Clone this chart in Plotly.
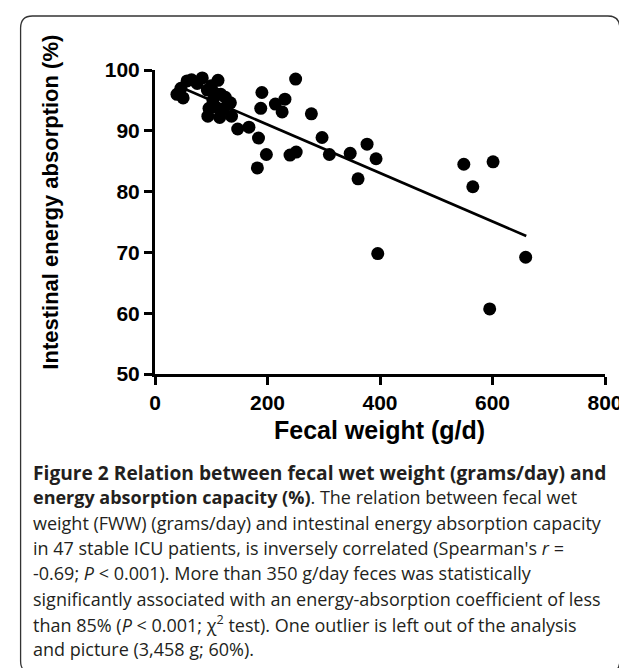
import plotly.graph_objects as go

# Data
fecal_weight = [39, 50, 46, 57, 65, 75, 84, 93, 100, 112, 106, 117, 103, 125,
                96, 94, 108, 115, 122, 134, 136, 147, 167, 184, 182, 190, 188,
                198, 214, 226, 231, 240, 251, 250, 278, 297, 310, 347, 361, 377,
                393, 396, 549, 565, 601, 595, 659]
energy_abs = [96.0, 95.4, 97.0, 98.2, 98.4, 97.8, 98.7, 96.7, 97.4, 98.3, 96.2,
              96.0, 95.0, 95.5, 93.7, 92.4, 93.9, 92.2, 93.6, 94.6, 92.4, 90.3,
              90.6, 88.8, 83.9, 96.3, 93.7, 86.1, 94.4, 93.1, 95.2, 86.0, 86.5,
              98.5, 92.8, 88.9, 86.1, 86.3, 82.1, 87.8, 85.4, 69.8, 84.5, 80.8,
              84.9, 60.7, 69.2]
fit_x = [45, 660]
fit_y = [97.2, 72.7]

x_ticks = [0, 200, 400, 600, 800]
y_ticks = [50, 60, 70, 80, 90, 100]

caption_lines = [
    "<b>Figure 2 Relation between fecal wet weight (grams/day) and</b>",
    "<b>energy absorption capacity (%)</b>. The relation between fecal wet",
    "weight (FWW) (grams/day) and intestinal energy absorption capacity",
    "in 47 stable ICU patients, is inversely correlated (Spearman's <i>r</i> =",
    "-0.69; <i>P</i> &lt; 0.001). More than 350 g/day feces was statistically",
    "significantly associated with an energy-absorption coefficient of less",
    "than 85% (<i>P</i> &lt; 0.001; χ<sup>2</sup> test). One outlier is left out of the analysis",
    "and picture (3,458 g; 60%).",
]
caption_sizes = [19.2, 18, 18, 18, 18, 18, 18, 18]

W, H = 627, 668
L, R, T, B = 147, 604, 62, 366  # plot area in pixels


def px(x):
    return (x - L) / (R - L)


def py(y):
    return (B - y) / (B - T)


fig = go.Figure()
fig.add_trace(go.Scatter(x=fit_x, y=fit_y, mode="lines",
                         line=dict(color="black", width=2.6), hoverinfo="skip"))
fig.add_trace(go.Scatter(x=fecal_weight, y=energy_abs, mode="markers",
                         marker=dict(color="black", size=13, line=dict(width=0))))

FONT = "Liberation Sans, Arial, sans-serif"
axis_font = dict(family=FONT, size=21, color="black", weight="bold")
common = dict(showgrid=False, zeroline=False, showline=True, linecolor="black",
              linewidth=3, ticks="outside", ticklen=8, tickwidth=3,
              tickcolor="black", tickfont=axis_font)
fig.update_xaxes(range=[0, 800], tickvals=x_ticks, **common)
fig.update_yaxes(range=[50, 100], tickvals=y_ticks, **common)

# Rounded border box
x0, y0, x1, y1 = px(10.5), py(8), px(619), py(665)
rr_x = 12 / (R - L)
rr_y = 12 / (B - T)
path = (f"M {x0+rr_x},{y0} L {x1-rr_x},{y0} Q {x1},{y0} {x1},{y0-rr_y} "
        f"L {x1},{y1+rr_y} Q {x1},{y1} {x1-rr_x},{y1} "
        f"L {x0+rr_x},{y1} Q {x0},{y1} {x0},{y1+rr_y} "
        f"L {x0},{y0-rr_y} Q {x0},{y0} {x0+rr_x},{y0} Z")
fig.add_shape(type="path", path=path, xref="paper", yref="paper",
              line=dict(color="#333333", width=1.3))

fig.add_annotation(text="Intestinal energy absorption (%)", textangle=-90,
                   x=px(40), y=py(194), xref="paper", yref="paper", showarrow=False,
                   xanchor="center", yanchor="middle",
                   font=dict(family=FONT, size=22, color="black", weight="bold"))
fig.add_annotation(text="Fecal weight (g/d)",
                   x=px(375), y=py(422), xref="paper", yref="paper", showarrow=False,
                   xanchor="center", yanchor="middle",
                   font=dict(family=FONT, size=25, color="black", weight="bold"))

for i, (line, size) in enumerate(zip(caption_lines, caption_sizes)):
    fig.add_annotation(text=line, x=px(21), y=py(464 + 25.3 * i),
                       xref="paper", yref="paper", xanchor="left", yanchor="middle",
                       align="left", showarrow=False,
                       font=dict(family="Open Sans, sans-serif", size=size, color="#231f20"))

fig.update_layout(width=W, height=H, autosize=False, showlegend=False,
                  margin=dict(l=L, r=W - R, t=T, b=H - B, pad=0),
                  plot_bgcolor="white", paper_bgcolor="white")

fig.write_html("out.html")
